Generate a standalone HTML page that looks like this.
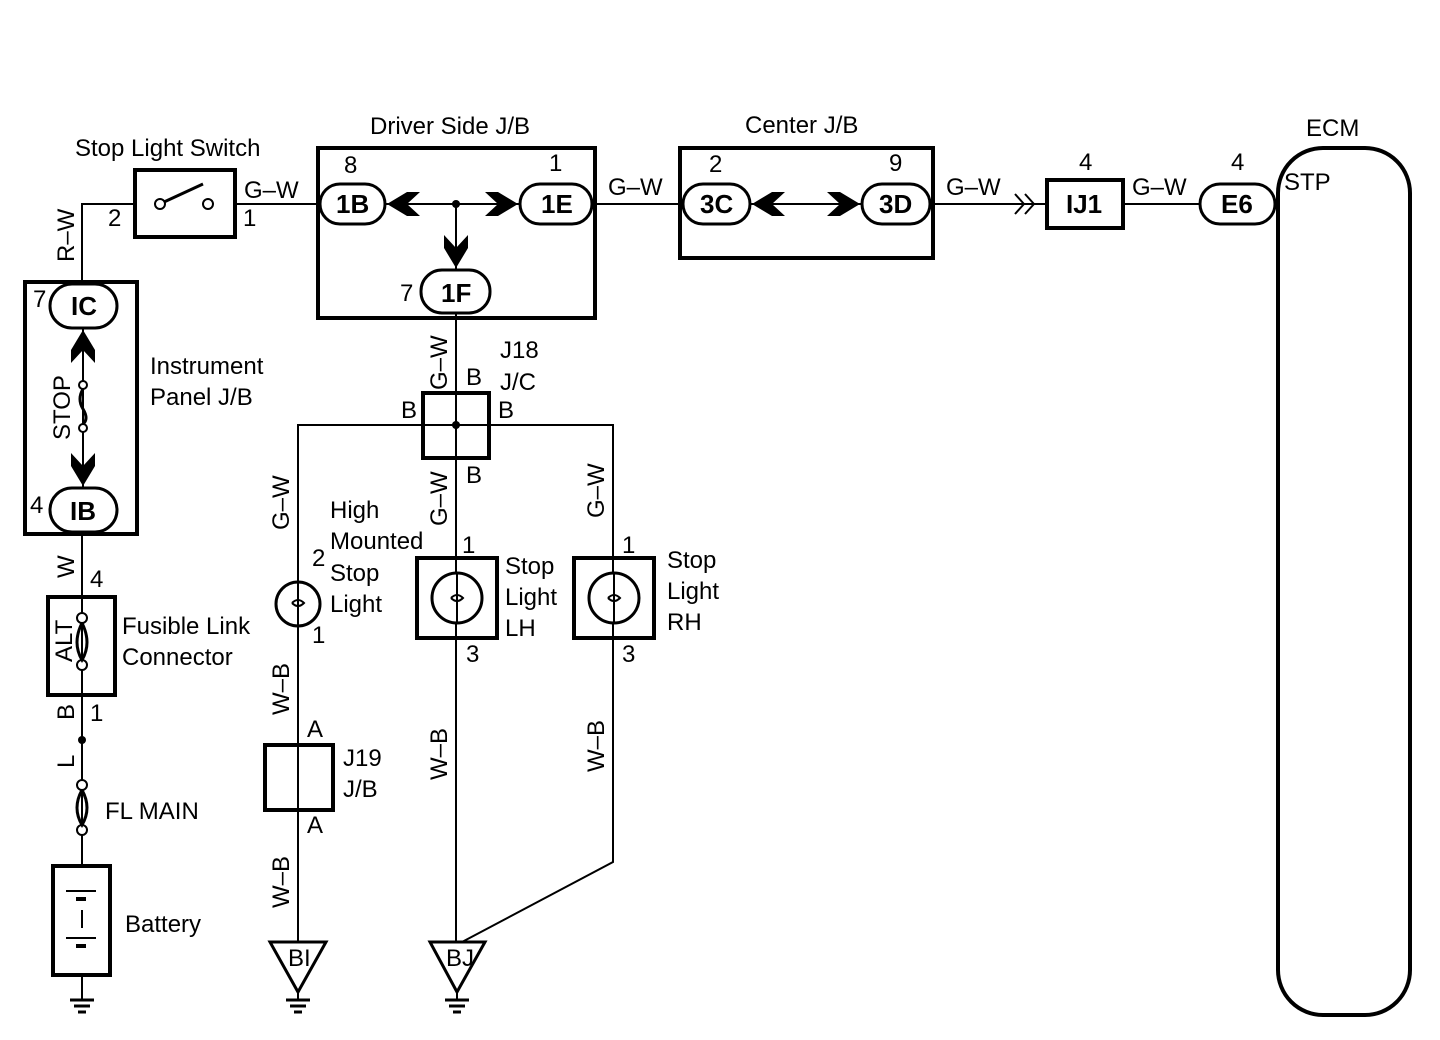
<!DOCTYPE html>
<html><head><style>body{margin:0;background:#fff}svg{display:block}text{font-family:"Liberation Sans",sans-serif;font-size:24px;fill:#000}.p{font-size:26px;font-weight:bold}</style></head><body>
<svg width="1440" height="1040" viewBox="0 0 1440 1040" xmlns="http://www.w3.org/2000/svg">
<g fill="none" stroke="#000" stroke-width="2">
<polyline points="82,282 82,204 135,204"/>
<line x1="235" y1="204" x2="320" y2="204"/>
<line x1="385" y1="204" x2="520" y2="204"/>
<line x1="592" y1="204" x2="683" y2="204"/>
<line x1="750" y1="204" x2="862" y2="204"/>
<line x1="930" y1="204" x2="1047" y2="204"/>
<line x1="1123" y1="204" x2="1200" y2="204"/>
<line x1="456" y1="204" x2="456" y2="270"/>
<line x1="456" y1="313" x2="456" y2="942"/>
<polyline points="298,582 298,425 613,425 613,862 462,942"/>
<line x1="298" y1="626" x2="298" y2="942"/>
<line x1="82" y1="534" x2="82" y2="866"/>
<line x1="82" y1="975" x2="82" y2="1000"/>
<line x1="298" y1="992" x2="298" y2="1000"/>
<line x1="457" y1="992" x2="457" y2="1000"/>
<line x1="83" y1="328" x2="83" y2="488"/>
</g>
<g fill="none" stroke="#000" stroke-width="4">
<rect x="135" y="170" width="100" height="67"/>
<rect x="318" y="148" width="277" height="170"/>
<rect x="680" y="148" width="253" height="110"/>
<rect x="1047" y="180" width="76" height="48"/>
<rect x="1278" y="148" width="132" height="867" rx="45"/>
<rect x="25" y="282" width="112" height="252"/>
<rect x="423" y="393" width="66" height="65"/>
<rect x="417" y="558" width="80" height="80"/>
<rect x="574" y="558" width="80" height="80"/>
<rect x="265" y="745" width="68" height="65"/>
<rect x="48" y="597" width="67" height="98"/>
<rect x="53" y="866" width="57" height="109"/>
</g>
<g fill="#fff" stroke="#000" stroke-width="3">
<rect x="320" y="184" width="65" height="40" rx="20"/>
<rect x="520" y="184" width="72" height="40" rx="20"/>
<rect x="421" y="270" width="69" height="43" rx="21"/>
<rect x="683" y="184" width="67" height="40" rx="20"/>
<rect x="862" y="184" width="68" height="40" rx="20"/>
<rect x="1200" y="184" width="75" height="40" rx="20"/>
<rect x="50" y="284" width="67" height="44" rx="22"/>
<rect x="50" y="488" width="67" height="44" rx="22"/>
<circle cx="298" cy="604" r="22"/>
<circle cx="457" cy="598" r="25"/>
<circle cx="614" cy="598" r="25"/>
<polygon points="270,942 326,942 298,992"/>
<polygon points="430,942 485,942 457,992"/>
</g>
<g stroke="#000" stroke-width="2" fill="#fff">
<line x1="298" y1="582" x2="298" y2="626"/><line x1="457" y1="573" x2="457" y2="623"/><line x1="614" y1="573" x2="614" y2="623"/>
<path d="M292,603 q6,-6 12,0 q-6,6 -12,0" fill="none"/><path d="M451,598 q6,-6 12,0 q-6,6 -12,0" fill="none"/><path d="M608,598 q6,-6 12,0 q-6,6 -12,0" fill="none"/>
<circle cx="160" cy="204" r="5"/><circle cx="208" cy="204" r="5"/><line x1="164" y1="202" x2="203" y2="184" stroke-width="3"/>
<circle cx="83" cy="385" r="4"/><circle cx="83" cy="428" r="4"/>
<path d="M83,389 q-6,10 0,20 q6,10 0,15" fill="none" stroke-width="3"/>
<circle cx="82" cy="618" r="5"/><circle cx="82" cy="665" r="5"/>
<path d="M82,623 q-10,20 0,37 q10,-17 0,-37" fill="none" stroke-width="3"/>
<circle cx="82" cy="785" r="5"/><circle cx="82" cy="830" r="5"/>
<path d="M82,790 q-10,18 0,35 q10,-17 0,-35" fill="none" stroke-width="3"/>
<line x1="66" y1="891" x2="96" y2="891"/><line x1="76" y1="899" x2="86" y2="899" stroke-width="4"/>
<line x1="82" y1="910" x2="82" y2="928"/>
<line x1="66" y1="938" x2="96" y2="938"/><line x1="76" y1="946" x2="86" y2="946" stroke-width="4"/>
<line x1="1015" y1="194" x2="1024" y2="204"/><line x1="1015" y1="214" x2="1024" y2="204"/>
<line x1="1025" y1="194" x2="1034" y2="204"/><line x1="1025" y1="214" x2="1034" y2="204"/>
</g>
<g fill="#000">
<circle cx="456" cy="204" r="4"/><circle cx="456" cy="425" r="4"/><circle cx="82" cy="740" r="4"/>
<polygon points="387,204 407,192 420,192 407,204 420,216 407,216"/>
<polygon points="518,204 498,192 485,192 498,204 485,216 498,216"/>
<polygon points="752,204 772,192 785,192 772,204 785,216 772,216"/>
<polygon points="860,204 840,192 827,192 840,204 827,216 840,216"/>
<polygon points="456,268 444,248 444,235 456,248 468,235 468,248"/>
<polygon points="83,330 71,350 71,363 83,350 95,363 95,350"/>
<polygon points="83,486 71,466 71,453 83,466 95,453 95,466"/>
</g>
<g stroke="#000" stroke-width="3">
<line x1="70" y1="1000" x2="94" y2="1000"/><line x1="74" y1="1006" x2="90" y2="1006"/><line x1="78" y1="1012" x2="86" y2="1012"/>
<line x1="286" y1="1000" x2="310" y2="1000"/><line x1="290" y1="1006" x2="306" y2="1006"/><line x1="294" y1="1012" x2="302" y2="1012"/>
<line x1="445" y1="1000" x2="469" y2="1000"/><line x1="449" y1="1006" x2="465" y2="1006"/><line x1="453" y1="1012" x2="461" y2="1012"/>
</g>
<text x="75" y="156">Stop Light Switch</text>
<text x="370" y="134">Driver Side J/B</text>
<text x="745" y="133">Center J/B</text>
<text x="1306" y="136">ECM</text>
<text x="1284" y="190">STP</text>
<text x="244" y="198">G–W</text><text x="608" y="195">G–W</text><text x="946" y="195">G–W</text><text x="1132" y="195">G–W</text>
<text x="108" y="226">2</text><text x="243" y="226">1</text>
<text x="344" y="173">8</text><text x="549" y="171">1</text><text x="709" y="172">2</text><text x="889" y="171">9</text>
<text x="1079" y="170">4</text><text x="1231" y="170">4</text>
<text class="p" x="336" y="213">1B</text><text class="p" x="541" y="213">1E</text><text class="p" x="441" y="302">1F</text><text x="400" y="301">7</text>
<text class="p" x="700" y="213">3C</text><text class="p" x="879" y="213">3D</text><text class="p" x="1066" y="213">IJ1</text><text class="p" x="1221" y="213">E6</text>
<text class="p" x="71" y="315">IC</text><text class="p" x="70" y="520">IB</text><text x="33" y="307" font-size="22">7</text><text x="30" y="513" font-size="22">4</text>
<text x="150" y="374">Instrument</text><text x="150" y="405">Panel J/B</text>
<text x="500" y="358">J18</text><text x="500" y="390">J/C</text>
<text x="466" y="385">B</text><text x="401" y="418">B</text><text x="498" y="418">B</text><text x="466" y="483">B</text>
<text x="330" y="518">High</text><text x="330" y="549">Mounted</text><text x="330" y="581">Stop</text><text x="330" y="612">Light</text>
<text x="312" y="566">2</text><text x="312" y="643">1</text>
<text x="505" y="574">Stop</text><text x="505" y="605">Light</text><text x="505" y="636">LH</text>
<text x="667" y="568">Stop</text><text x="667" y="599">Light</text><text x="667" y="630">RH</text>
<text x="462" y="553">1</text><text x="622" y="553">1</text><text x="466" y="662">3</text><text x="622" y="662">3</text>
<text x="122" y="634">Fusible Link</text><text x="122" y="665">Connector</text>
<text x="90" y="587">4</text><text x="90" y="721">1</text>
<text x="105" y="819">FL MAIN</text><text x="125" y="932">Battery</text>
<text x="307" y="737">A</text><text x="307" y="833">A</text><text x="343" y="766">J19</text><text x="343" y="797">J/B</text>
<text x="288" y="966" font-size="18">BI</text><text x="446" y="966" font-size="18">BJ</text>
<g font-size="22">
<text transform="translate(74,262) rotate(-90)">R–W</text>
<text transform="translate(74,578) rotate(-90)">W</text>
<text transform="translate(74,720) rotate(-90)">B</text>
<text transform="translate(74,768) rotate(-90)">L</text>
<text transform="translate(70,440) rotate(-90)">STOP</text>
<text transform="translate(72,662) rotate(-90)" font-size="18">ALT</text>
<text transform="translate(447,390) rotate(-90)">G–W</text>
<text transform="translate(447,526) rotate(-90)">G–W</text>
<text transform="translate(289,530) rotate(-90)">G–W</text>
<text transform="translate(604,518) rotate(-90)">G–W</text>
<text transform="translate(289,715) rotate(-90)">W–B</text>
<text transform="translate(289,908) rotate(-90)">W–B</text>
<text transform="translate(447,780) rotate(-90)">W–B</text>
<text transform="translate(604,772) rotate(-90)">W–B</text>
</g>
</svg>
</body></html>
